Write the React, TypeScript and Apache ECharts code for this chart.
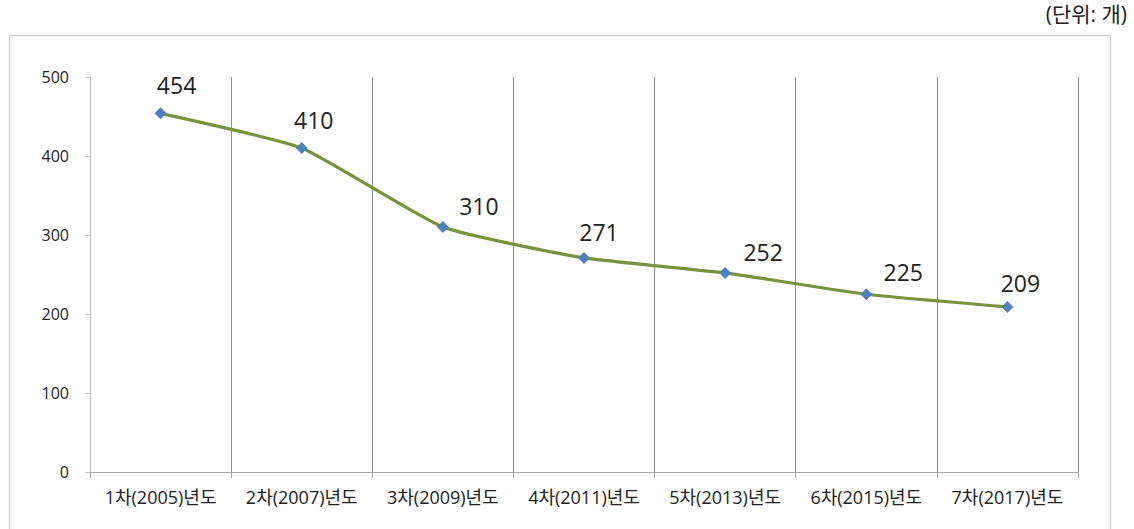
import React, { useEffect, useRef } from "react";
import * as echarts from "echarts";

const categories = [
  "1차(2005)년도",
  "2차(2007)년도",
  "3차(2009)년도",
  "4차(2011)년도",
  "5차(2013)년도",
  "6차(2015)년도",
  "7차(2017)년도",
];
const values = [454, 410, 310, 271, 252, 225, 209];
const yTicks = { min: 0, max: 500, interval: 100 };
const unitLabel = "(단위: 개)";
const labelOffsets = [
  [16, -2],
  [12, -2],
  [36, 5],
  [15, 1],
  [38, 6],
  [37, 4],
  [13, 3],
];

const FONT = "'Open Sans', 'Noto Sans CJK KR', sans-serif";

export default function App() {
  const ref = useRef<HTMLDivElement>(null);
  useEffect(() => {
    if (!ref.current) return;
    const chart = echarts.init(ref.current, undefined, { renderer: "svg" });
    chart.setOption({
      animation: false,
      backgroundColor: "#ffffff",
      grid: { left: 90, top: 77, width: 988, height: 395, containLabel: false },
      graphic: [
        {
          type: "rect",
          shape: { x: 9.5, y: 35.5, width: 1101, height: 520 },
          style: { fill: "none", stroke: "#d4d4d4", lineWidth: 1.5 },
          silent: true,
        },
        {
          type: "text",
          right: 7,
          top: 3,
          style: { text: unitLabel, font: `21px ${FONT}`, fill: "#222" },
        },
      ],
      xAxis: {
        type: "category",
        data: categories,
        boundaryGap: true,
        axisLine: { show: true, lineStyle: { color: "#a6a6a6", width: 1 } },
        axisTick: { show: true, interval: 0, length: 6, lineStyle: { color: "#a6a6a6" } },
        axisLabel: { interval: 0, margin: 16, fontSize: 18, color: "#222", fontFamily: FONT },
        splitLine: { show: true, interval: 0, lineStyle: { color: "#8c8c8c", width: 1 } },
      },
      yAxis: {
        type: "value",
        min: yTicks.min,
        max: yTicks.max,
        interval: yTicks.interval,
        axisLine: { show: true, lineStyle: { color: "#bfbfbf", width: 1 } },
        axisTick: { show: true, length: 5, lineStyle: { color: "#bfbfbf" } },
        axisLabel: { margin: 21, fontSize: 16, color: "#222", fontFamily: FONT },
        splitLine: { show: false },
      },
      series: [
        {
          type: "line",
          data: values.map((v, i) => ({
            value: v,
            label: { offset: labelOffsets[i] },
          })),
          smooth: 0.15,
          symbol: "diamond",
          symbolSize: 12,
          itemStyle: { color: "#4f81bd" },
          lineStyle: { color: "#77933c", width: 3.2 },
          label: {
            show: true,
            position: "top",
            distance: 9,
            fontSize: 23,
            color: "#222",
            fontFamily: FONT,
          },
          z: 3,
        },
      ],
    });
    return () => chart.dispose();
  }, []);
  return (
    <div
      ref={ref}
      style={{ position: "fixed", left: 0, top: 0, width: 1134, height: 529 }}
    />
  );
}
